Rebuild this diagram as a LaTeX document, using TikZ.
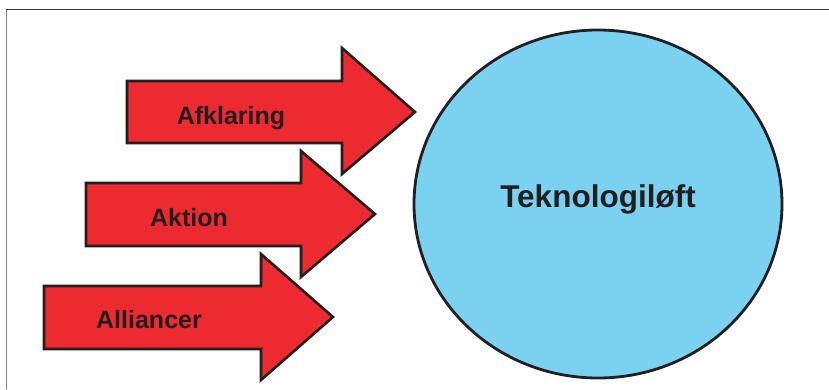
\documentclass[tikz,border=0pt]{standalone}
\usepackage{fontspec}
\setmainfont{Liberation Sans}
\usetikzlibrary{positioning}
\definecolor{arrowred}{HTML}{EC2A2F}
\definecolor{circleblue}{HTML}{7BD1F0}
\definecolor{outline}{HTML}{231F20}

\begin{document}
\begin{tikzpicture}[x=1pt,y=-1pt,
		pil/.style={fill=arrowred,draw=outline,line width=2.6pt,line join=miter},
		tekst/.style={anchor=base,text=outline,font=\bfseries\fontsize{25}{30}\selectfont}]
		\useasboundingbox (0,0) rectangle (829,389);
		\draw[gray,line width=1pt] (6,389) -- (6,9);
		\draw[outline!90,line width=1pt] (6,9) -- (829,9);
		\draw[fill=circleblue,draw=outline,line width=2.8pt] (598,204) ellipse (184 and 174);
		\draw[pil] (127,81) -- (342,81) -- (342,48) -- (415,112) -- (342,174) -- (342,143) -- (127,143) -- cycle;
		\draw[pil] (86,183) -- (301,183) -- (301,151) -- (375,214) -- (301,277) -- (301,246) -- (86,246) -- cycle;
		\draw[pil] (44,286) -- (261,286) -- (261,254) -- (333,317) -- (261,380) -- (261,349) -- (44,349) -- cycle;
		\node[tekst] (afklaring) at (231,124) {Afklaring};
		\node[tekst] (aktion) at (189,226) {Aktion};
		\node[tekst] (alliancer) at (149,328) {Alliancer};
		\node[tekst,font=\bfseries\fontsize{31.5}{37}\selectfont] (teknologi) at (598,207) {Teknologiløft};
	\end{tikzpicture}
\end{document}
